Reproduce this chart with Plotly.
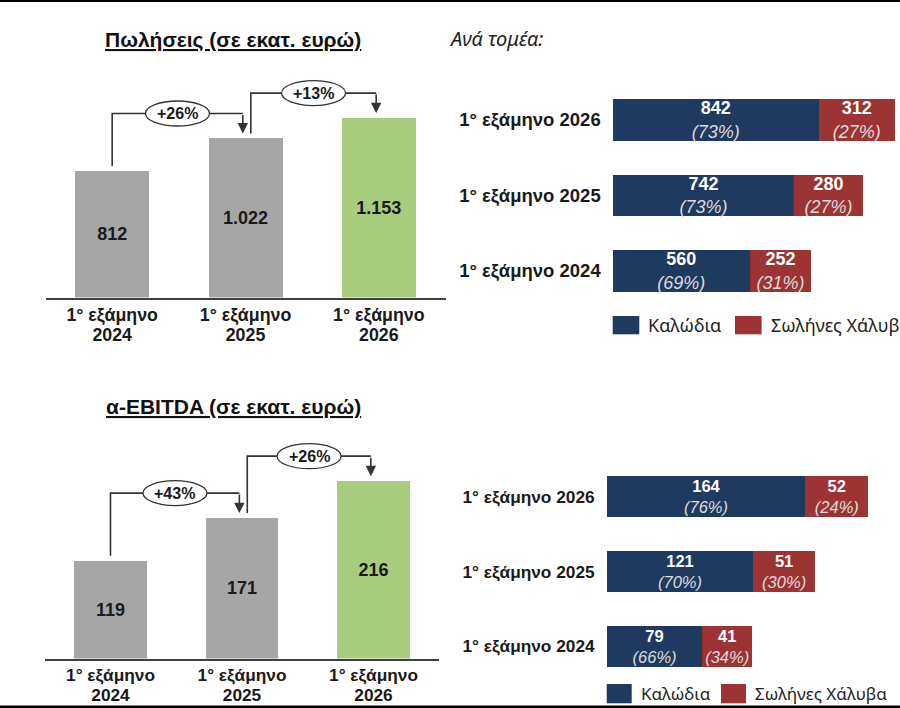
import plotly.graph_objects as go

# data (millions of euro, first half of each year)
periods = ["2024", "2025", "2026"]
sales = [812, 1022, 1153]
ebitda = [119, 171, 216]
sales_growth = ["+26%", "+13%"]
ebitda_growth = ["+43%", "+26%"]
sales_cables = [560, 742, 842]
sales_pipes = [252, 280, 312]
ebitda_cables = [79, 121, 164]
ebitda_pipes = [41, 51, 52]
segment_names = ["Καλώδια", "Σωλήνες Χάλυβα"]

W, H = 900, 708
FONT = "Liberation Sans"
FONT2 = "Noto Sans"
GRAY = "#a6a6a6"
GREEN = "#a9cc7e"
BLUE = "#1f3a60"
RED = "#9c3434"
LINE = "#333333"


def xd(a, b):
    return [a / W, b / W]


def yd(top, bottom):
    return [1 - bottom / H, 1 - top / H]


def fmt(v):
    return f"{v:,}".replace(",", ".")


def pct(part, other):
    return round(100 * part / (part + other))


# panel geometry in page pixels: (left, right, top, bottom, px per unit, font size)
panels = {
    "sales": (45.5, 445.5, 60, 297.5, 0.1556, 17.8),
    "ebitda": (44.75, 439.25, 420, 658.5, 0.821, 17.3),
    "sales_seg": (612.7, 900, 82.25, 308.75, 0.2446, 18.5),
    "ebitda_seg": (606.7, 900, 459.3, 683.7, 1.211, 17.3),
}
# gap between the "1° εξάμηνο" line and the year line
year_standoff = {"sales": 25, "ebitda": 24}

fig = go.Figure()

# vertical bars (plus a transparent copy on an overlaid axis that carries the year line)
for vals, ax, ax_year in [(sales, "", "5"), (ebitda, "2", "6")]:
    fig.add_trace(go.Bar(
        x=[0, 1, 2], y=vals, xaxis="x" + ax, yaxis="y" + ax,
        width=0.555, marker=dict(color=[GRAY, GRAY, GREEN], line_width=0),
        text=[fmt(v) for v in vals], textposition="inside",
        insidetextanchor="middle", constraintext="none",
        textfont=dict(family=FONT, size=18, color="#1a1a1a", weight="bold"),
        hoverinfo="skip", showlegend=False,
    ))
    fig.add_trace(go.Bar(
        x=[0, 1, 2], y=vals, xaxis="x" + ax_year, yaxis="y" + ax,
        width=0.555, marker=dict(color="rgba(0,0,0,0)", line_width=0),
        hoverinfo="skip", showlegend=False,
    ))

# horizontal stacked bars by segment
ylab = [f"1° εξάμηνο {p}" for p in periods]
for cab, pip, ax, fs in [(sales_cables, sales_pipes, "3", 18),
                         (ebitda_cables, ebitda_pipes, "4", 16.5)]:
    for vals, others, color in [(cab, pip, BLUE), (pip, cab, RED)]:
        txt = [f"<b>{v}</b><br><span style='color:#dcdcdc'><i>({pct(v, o)}%)</i></span>"
               for v, o in zip(vals, others)]
        fig.add_trace(go.Bar(
            y=ylab, x=vals, orientation="h", xaxis="x" + ax, yaxis="y" + ax,
            width=0.55, marker=dict(color=color, line_width=0),
            text=txt, textposition="inside", insidetextanchor="middle",
            constraintext="none",
            textfont=dict(family=FONT, size=fs, color="white"),
            hoverinfo="skip", showlegend=False,
        ))


def add_growth(vals, labels, xref, yref, u):
    # elbow connectors with an ellipse label between consecutive bars
    for i, lab in enumerate(labels):
        v0, v1 = vals[i], vals[i + 1]
        x0 = i + (0.04 if i > 0 else 0)
        x1 = i + 1 - 0.02
        y0 = v0 + 5 * u
        lvl = max(v0, v1) + 25 * u
        tip = v1 + 5 * u
        fig.add_shape(type="path", xref=xref, yref=yref,
                      path=f"M {x0},{y0} L {x0},{lvl} L {x1},{lvl}",
                      line=dict(color=LINE, width=1.6))
        fig.add_annotation(x=x1, y=tip, ax=x1, ay=lvl, xref=xref, yref=yref,
                           axref=xref, ayref=yref, text="", showarrow=True,
                           arrowhead=2, arrowsize=1.3, arrowwidth=1.6, arrowcolor=LINE)
        xm = (x0 + x1) / 2
        fig.add_shape(type="circle", xref=xref, yref=yref, xsizemode="pixel",
                      ysizemode="pixel", xanchor=xm, yanchor=lvl,
                      x0=-32, x1=32, y0=-12.5, y1=12.5,
                      fillcolor="white", line=dict(color=LINE, width=1.3))
        fig.add_annotation(x=xm, y=lvl, xref=xref, yref=yref, text=f"<b>{lab}</b>",
                           showarrow=False, font=dict(family=FONT, size=16, color="#1a1a1a"))


l, r, t, b, s, fs = panels["sales"]
add_growth(sales, sales_growth, "x", "y", 1 / s)
l, r, t, b, s, fs = panels["ebitda"]
add_growth(ebitda, ebitda_growth, "x2", "y2", 1 / s)

layout_axes = {}
for name, ax, ax_year in [("sales", "", "5"), ("ebitda", "2", "6")]:
    l, r, t, b, s, fs = panels[name]
    tfont = dict(family=FONT, size=fs, color="#1a1a1a", weight="bold")
    layout_axes["xaxis" + ax] = dict(
        domain=xd(l, r), range=[-0.5, 2.5], anchor="y" + ax,
        tickvals=[0, 1, 2], ticktext=["1° εξάμηνο"] * 3, showline=True,
        linecolor="#404040", linewidth=1.5, showgrid=False, zeroline=False,
        ticks="", ticklabelstandoff=0, fixedrange=True, tickfont=tfont)
    layout_axes["xaxis" + ax_year] = dict(
        overlaying="x" + ax, anchor="y" + ax, side="bottom", range=[-0.5, 2.5],
        tickvals=[0, 1, 2], ticktext=periods, showline=False, showgrid=False,
        zeroline=False, ticks="", ticklabelstandoff=year_standoff[name],
        fixedrange=True, tickfont=tfont)
    layout_axes["yaxis" + ax] = dict(
        domain=yd(t, b), range=[0, (b - t) / s], anchor="x" + ax,
        visible=False, fixedrange=True)

for name, ax in [("sales_seg", "3"), ("ebitda_seg", "4")]:
    l, r, t, b, s, fs = panels[name]
    layout_axes["xaxis" + ax] = dict(
        domain=xd(l, r), range=[0, (r - l) / s], anchor="y" + ax,
        visible=False, fixedrange=True)
    layout_axes["yaxis" + ax] = dict(
        domain=yd(t, b), anchor="x" + ax, type="category",
        categoryorder="array", categoryarray=ylab, range=[-0.5, 2.5],
        showline=False, showgrid=False, zeroline=False, ticks="",
        ticklabelstandoff=11, fixedrange=True,
        tickfont=dict(family=FONT, size=fs, color="#1a1a1a", weight="bold"))

# titles
for txt, yc in [("Πωλήσεις (σε εκατ. ευρώ)", 40.5), ("α-EBITDA (σε εκατ. ευρώ)", 406.5)]:
    fig.add_annotation(x=233 / W, y=1 - yc / H, xref="paper", yref="paper",
                       xanchor="center", yanchor="middle",
                       text=f"<b><u>{txt}</u></b>", showarrow=False,
                       font=dict(family=FONT, size=21, color="#111111"))
fig.add_annotation(x=447 / W, y=1 - 38 / H, xref="paper", yref="paper",
                   xanchor="left", yanchor="middle", text="<i>Ανά τομέα:</i>",
                   showarrow=False, font=dict(family=FONT2, size=20, color="#222222"))

# hand-drawn legends (the top one runs off the slide edge)
legends = [
    # (blue box left, red box left, box top, box bottom, box width, font size)
    (612.7, 735, 316, 334.3, 26.6, 18),
    (606.7, 721, 684, 703.3, 25, 17),
]
for bl, rl, bt, bb, bw, lfs in legends:
    for left, color, name in [(bl, BLUE, segment_names[0]), (rl, RED, segment_names[1])]:
        fig.add_shape(type="rect", xref="paper", yref="paper",
                      x0=left / W, x1=(left + bw) / W, y0=1 - bb / H, y1=1 - bt / H,
                      fillcolor=color, line_width=0)
        fig.add_annotation(x=(left + bw + 7) / W, y=1 - (bt + bb) / 2 / H,
                           xref="paper", yref="paper", xanchor="left", yanchor="middle",
                           text=name, showarrow=False,
                           font=dict(family=FONT2, size=lfs, color="#222222"))

# black rules at the top and bottom of the slide capture
fig.add_shape(type="rect", xref="paper", yref="paper", x0=0, x1=1,
              y0=1 - 2 / H, y1=1, fillcolor="black", line_width=0)
fig.add_shape(type="rect", xref="paper", yref="paper", x0=0, x1=1,
              y0=0, y1=2.5 / H, fillcolor="black", line_width=0)

fig.update_layout(
    width=W, height=H, margin=dict(l=0, r=0, t=0, b=0),
    barmode="stack", paper_bgcolor="white", plot_bgcolor="rgba(0,0,0,0)",
    showlegend=False, **layout_axes,
)

fig.write_html("out.html", config={"displayModeBar": False},
               post_script="document.body.style.margin='0';"
                           "document.body.style.overflow='hidden';")
